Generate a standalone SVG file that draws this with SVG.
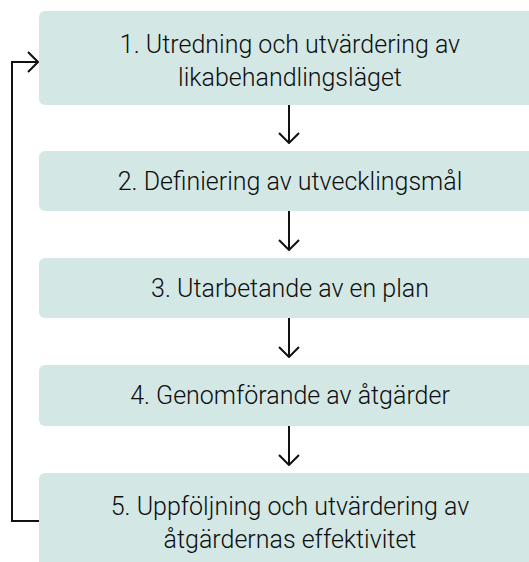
<svg xmlns="http://www.w3.org/2000/svg" width="529" height="562" viewBox="0 0 529 562">
<defs>
<style>
.box{fill:#d3e7e5;}
.lbl{font-family:Roboto,"Liberation Sans",sans-serif;font-size:25px;font-weight:300;fill:#0d0d0d;text-anchor:middle;}
.con{fill:none;stroke:#111;stroke-width:2;}
</style>
<marker id="ah" viewBox="0 0 12 22" refX="11" refY="11" markerWidth="12" markerHeight="22" markerUnits="userSpaceOnUse" orient="auto">
<path d="M1,1 L11,11 L1,21" fill="none" stroke="#111" stroke-width="2"/>
</marker>
</defs>
<rect width="529" height="562" fill="#fff"/>
<g id="node1"><rect class="box" x="39" y="11" width="502" height="94" rx="6"/>
<text class="lbl" x="290" y="53">1. Utredning och utvärdering av</text>
<text class="lbl" x="290" y="86">likabehandlingsläget</text></g>
<g id="node2"><rect class="box" x="39" y="151" width="502" height="60" rx="6"/>
<text class="lbl" x="290" y="190">2. Definiering av utvecklingsmål</text></g>
<g id="node3"><rect class="box" x="39" y="258" width="502" height="60" rx="6"/>
<text class="lbl" x="290" y="297">3. Utarbetande av en plan</text></g>
<g id="node4"><rect class="box" x="39" y="365" width="502" height="61" rx="6"/>
<text class="lbl" x="290" y="404">4. Genomförande av åtgärder</text></g>
<g id="node5"><rect class="box" x="39" y="473" width="502" height="94" rx="6"/>
<text class="lbl" x="290" y="515">5. Uppföljning och utvärdering av</text>
<text class="lbl" x="290" y="548">åtgärdernas effektivitet</text></g>
<g id="connectors">
<path class="con" d="M289,105 V143" marker-end="url(#ah)"/>
<path class="con" d="M289,211 V250" marker-end="url(#ah)"/>
<path class="con" d="M289,318 V357" marker-end="url(#ah)"/>
<path class="con" d="M289,426 V465" marker-end="url(#ah)"/>
<path class="con" d="M39,521 H12 V62 H38" marker-end="url(#ah)"/>
</g>
</svg>
